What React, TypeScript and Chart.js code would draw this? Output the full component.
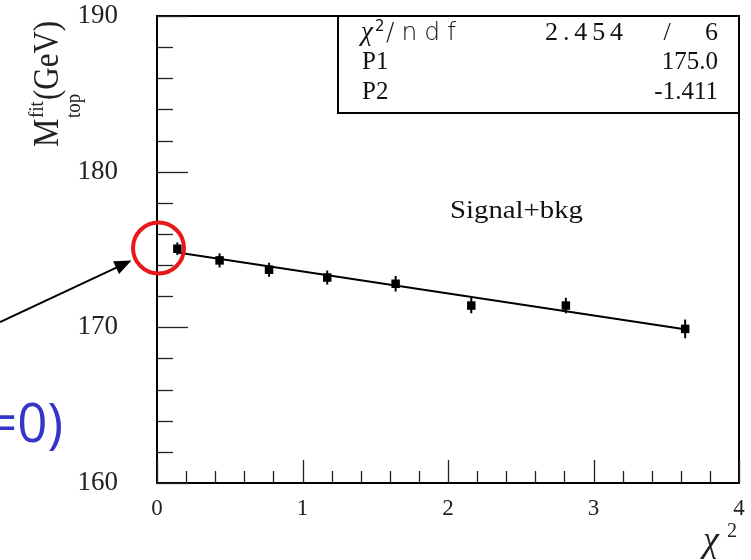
import React, { useEffect, useRef } from "react";
import { Chart, registerables } from "chart.js";

Chart.register(...registerables);

// ---- data ----
const chi2Values = [0.14, 0.43, 0.77, 1.17, 1.64, 2.16, 2.81, 3.63];
const massValues = [175.05, 174.3, 173.7, 173.2, 172.8, 171.4, 171.4, 169.9];
const massErrors = [0.4, 0.45, 0.45, 0.45, 0.5, 0.5, 0.5, 0.6];
const fitX = [0.14, 3.65];
const fitY = [174.8, 169.85];
const statNames = ["P1", "P2"];
const statValues = ["175.0", "-1.411"];
const chi2Stat = "2.454";
const ndfStat = "6";
const curveLabel = "Signal+bkg";
const xTicks = [0, 1, 2, 3, 4];
const yTicks = [160, 170, 180, 190];

const SERIF = "'Liberation Serif', 'Times New Roman', serif";
const SANS = "'DejaVu Sans', 'Liberation Sans', sans-serif";

function fitText(ctx: any, text: string, x: number, y: number, width: number) {
  // draws text starting at x, spreading characters to span `width`
  const chars = Array.from(text);
  const total = ctx.measureText(text).width;
  const gap = chars.length > 1 ? (width - total) / (chars.length - 1) : 0;
  let cx = x;
  ctx.textAlign = "left";
  for (const c of chars) {
    ctx.fillText(c, cx, y);
    cx += ctx.measureText(c).width + gap;
  }
}

const overlayPlugin = {
  id: "rootStyle",
  beforeDatasetsDraw(chart: any) {
    const ctx = chart.ctx;
    const xs = chart.scales.x;
    const ys = chart.scales.y;
    ctx.save();
    ctx.strokeStyle = "#000";
    ctx.lineWidth = 2;
    chi2Values.forEach((cx, i) => {
      const px = xs.getPixelForValue(cx);
      const y1 = ys.getPixelForValue(massValues[i] - massErrors[i]);
      const y2 = ys.getPixelForValue(massValues[i] + massErrors[i]);
      ctx.beginPath();
      ctx.moveTo(px, y1);
      ctx.lineTo(px, y2);
      ctx.stroke();
    });
    ctx.restore();
  },
  afterDraw(chart: any) {
    const ctx = chart.ctx;
    const a = chart.chartArea;
    const xs = chart.scales.x;
    const ys = chart.scales.y;
    ctx.save();
    // frame
    ctx.strokeStyle = "#000";
    ctx.lineWidth = 2;
    ctx.strokeRect(a.left, a.top, a.right - a.left, a.bottom - a.top);

    // y ticks (inside)
    ctx.lineWidth = 1.3;
    ctx.strokeStyle = "#222";
    for (let k = 0; k <= 15; k++) {
      const v = 160 + k * 2;
      const py = Math.round(ys.getPixelForValue(v)) + 0.5;
      const major = k % 5 === 0;
      ctx.beginPath();
      ctx.moveTo(a.left, py);
      ctx.lineTo(a.left + (major ? 31 : 16), py);
      ctx.stroke();
    }
    // x ticks (inside)
    for (let k = 0; k <= 20; k++) {
      const v = k * 0.2;
      const px = Math.round(xs.getPixelForValue(v)) + 0.5;
      const major = k % 5 === 0;
      ctx.beginPath();
      ctx.moveTo(px, a.bottom);
      ctx.lineTo(px, a.bottom - (major ? 23 : 12));
      ctx.stroke();
    }

    // stats box
    const bx = 338;
    const by = a.top;
    const bw = a.right - bx;
    const bh = 97;
    ctx.fillStyle = "#fff";
    ctx.fillRect(bx, by, bw, bh);
    ctx.lineWidth = 2;
    ctx.strokeStyle = "#000";
    ctx.strokeRect(bx, by, bw, bh);
    ctx.fillStyle = "#111";
    ctx.textBaseline = "alphabetic";
    // chi2/ndf row
    ctx.textAlign = "left";
    ctx.font = `italic 27px ${SERIF}`;
    ctx.fillText("χ", 361, 40);
    ctx.font = `15px ${SANS}`;
    ctx.fillText("2", 375, 31);
    ctx.font = `200 25px ${SANS}`;
    fitText(ctx, "/ndf", 386, 40, 70);
    ctx.font = `26px ${SERIF}`;
    fitText(ctx, chi2Stat, 545, 40, 78);
    ctx.textAlign = "right";
    ctx.fillText(ndfStat, 718, 40);
    ctx.textAlign = "center";
    ctx.fillText("/", 667, 40);
    // parameters
    const rowY = [69, 99];
    ctx.font = `25px ${SERIF}`;
    statNames.forEach((n, i) => {
      ctx.textAlign = "left";
      ctx.fillText(n, 362, rowY[i]);
      ctx.textAlign = "right";
      ctx.fillText(statValues[i], 718, rowY[i]);
    });

    // curve label
    ctx.font = `26px ${SERIF}`;
    ctx.textAlign = "left";
    ctx.save();
    const w = ctx.measureText(curveLabel).width;
    ctx.translate(450, 218);
    ctx.scale(133 / w, 1);
    ctx.fillText(curveLabel, 0, 0);
    ctx.restore();

    // y axis title
    ctx.save();
    ctx.translate(58, 147);
    ctx.rotate(-Math.PI / 2);
    ctx.scale(1, 1.15);
    ctx.fillStyle = "#222";
    ctx.textAlign = "left";
    ctx.font = `32px ${SERIF}`;
    ctx.fillText("M", 0, 0);
    ctx.font = `19px ${SERIF}`;
    ctx.fillText("fit", 29, -13);
    ctx.fillText("top", 29, 19);
    ctx.font = `31px ${SERIF}`;
    ctx.fillText("(GeV)", 47, 0);
    ctx.restore();

    // x axis title
    ctx.fillStyle = "#222";
    ctx.textAlign = "left";
    ctx.font = `italic 36px ${SERIF}`;
    ctx.fillText("χ", 703, 551);
    ctx.font = `20px ${SERIF}`;
    ctx.fillText("2", 727, 537);

    // red circle annotation
    ctx.strokeStyle = "#e8191c";
    ctx.lineWidth = 4;
    ctx.beginPath();
    ctx.arc(158.5, 248, 25.5, 0, Math.PI * 2);
    ctx.stroke();

    // arrow
    ctx.strokeStyle = "#000";
    ctx.fillStyle = "#000";
    ctx.lineWidth = 2;
    const tipX = 131.5, tipY = 260.5;
    const sx = 0, sy = 322;
    const ang = Math.atan2(tipY - sy, tipX - sx);
    ctx.beginPath();
    ctx.moveTo(sx, sy);
    ctx.lineTo(tipX - 12 * Math.cos(ang), tipY - 12 * Math.sin(ang));
    ctx.stroke();
    ctx.beginPath();
    ctx.moveTo(tipX, tipY);
    ctx.lineTo(tipX - 17 * Math.cos(ang) + 7 * Math.sin(ang), tipY - 17 * Math.sin(ang) - 7 * Math.cos(ang));
    ctx.lineTo(tipX - 17 * Math.cos(ang) - 7 * Math.sin(ang), tipY - 17 * Math.sin(ang) + 7 * Math.cos(ang));
    ctx.closePath();
    ctx.fill();

    // blue text (cut off at the left edge)
    ctx.fillStyle = "#3535c8";
    ctx.font = `54px 'Open Sans', 'Noto Sans', sans-serif`;
    ctx.textAlign = "right";
    ctx.save();
    const tw = ctx.measureText("=0)").width;
    ctx.translate(63, 442);
    ctx.scale(76 / tw, 1);
    ctx.fillText("=0)", 0, 0);
    ctx.restore();

    ctx.restore();
  },
};

export default function App() {
  const ref = useRef<HTMLCanvasElement | null>(null);
  useEffect(() => {
    if (!ref.current) return;
    const chart = new Chart(ref.current, {
      type: "scatter",
      data: {
        datasets: [
          {
            label: "fit",
            data: fitX.map((x, i) => ({ x, y: fitY[i] })),
            showLine: true,
            borderColor: "#000",
            borderWidth: 2,
            pointRadius: 0,
            order: 2,
          },
          {
            label: "points",
            data: chi2Values.map((x, i) => ({ x, y: massValues[i] })),
            pointStyle: "rect",
            pointRadius: 6,
            backgroundColor: "#000",
            borderColor: "#000",
            borderWidth: 0,
            order: 1,
          },
        ],
      },
      options: {
        animation: false,
        responsive: false,
        events: [],
        layout: { padding: { left: 0, top: 16, right: 12, bottom: 0 } },
        plugins: { legend: { display: false }, tooltip: { enabled: false } },
        scales: {
          x: {
            type: "linear",
            min: 0,
            max: 4,
            afterBuildTicks: (s: any) => {
              s.ticks = xTicks.map((v) => ({ value: v }));
            },
            afterFit: (s: any) => {
              s.height = 77;
              s.paddingLeft = 0;
              s.paddingRight = 0;
            },
            grid: { display: false, drawTicks: false },
            border: { display: false },
            ticks: {
              color: "#222",
              font: { family: SERIF, size: 23 },
              padding: 12,
              maxRotation: 0,
              autoSkip: false,
            },
          },
          y: {
            type: "linear",
            min: 160,
            max: 190,
            afterBuildTicks: (s: any) => {
              s.ticks = yTicks.map((v) => ({ value: v }));
            },
            afterFit: (s: any) => {
              s.width = 157;
              s.paddingTop = 0;
              s.paddingBottom = 0;
            },
            grid: { display: false, drawTicks: false },
            border: { display: false },
            ticks: {
              color: "#222",
              font: { family: SERIF, size: 27 },
              padding: 39,
              autoSkip: false,
            },
          },
        },
      },
      plugins: [overlayPlugin],
    } as any);
    return () => chart.destroy();
  }, []);
  return (
    <div style={{ position: "absolute", left: 0, top: 0, width: 751, height: 560, background: "#fff" }}>
      <canvas ref={ref} width={751} height={560} style={{ display: "block" }} />
    </div>
  );
}
